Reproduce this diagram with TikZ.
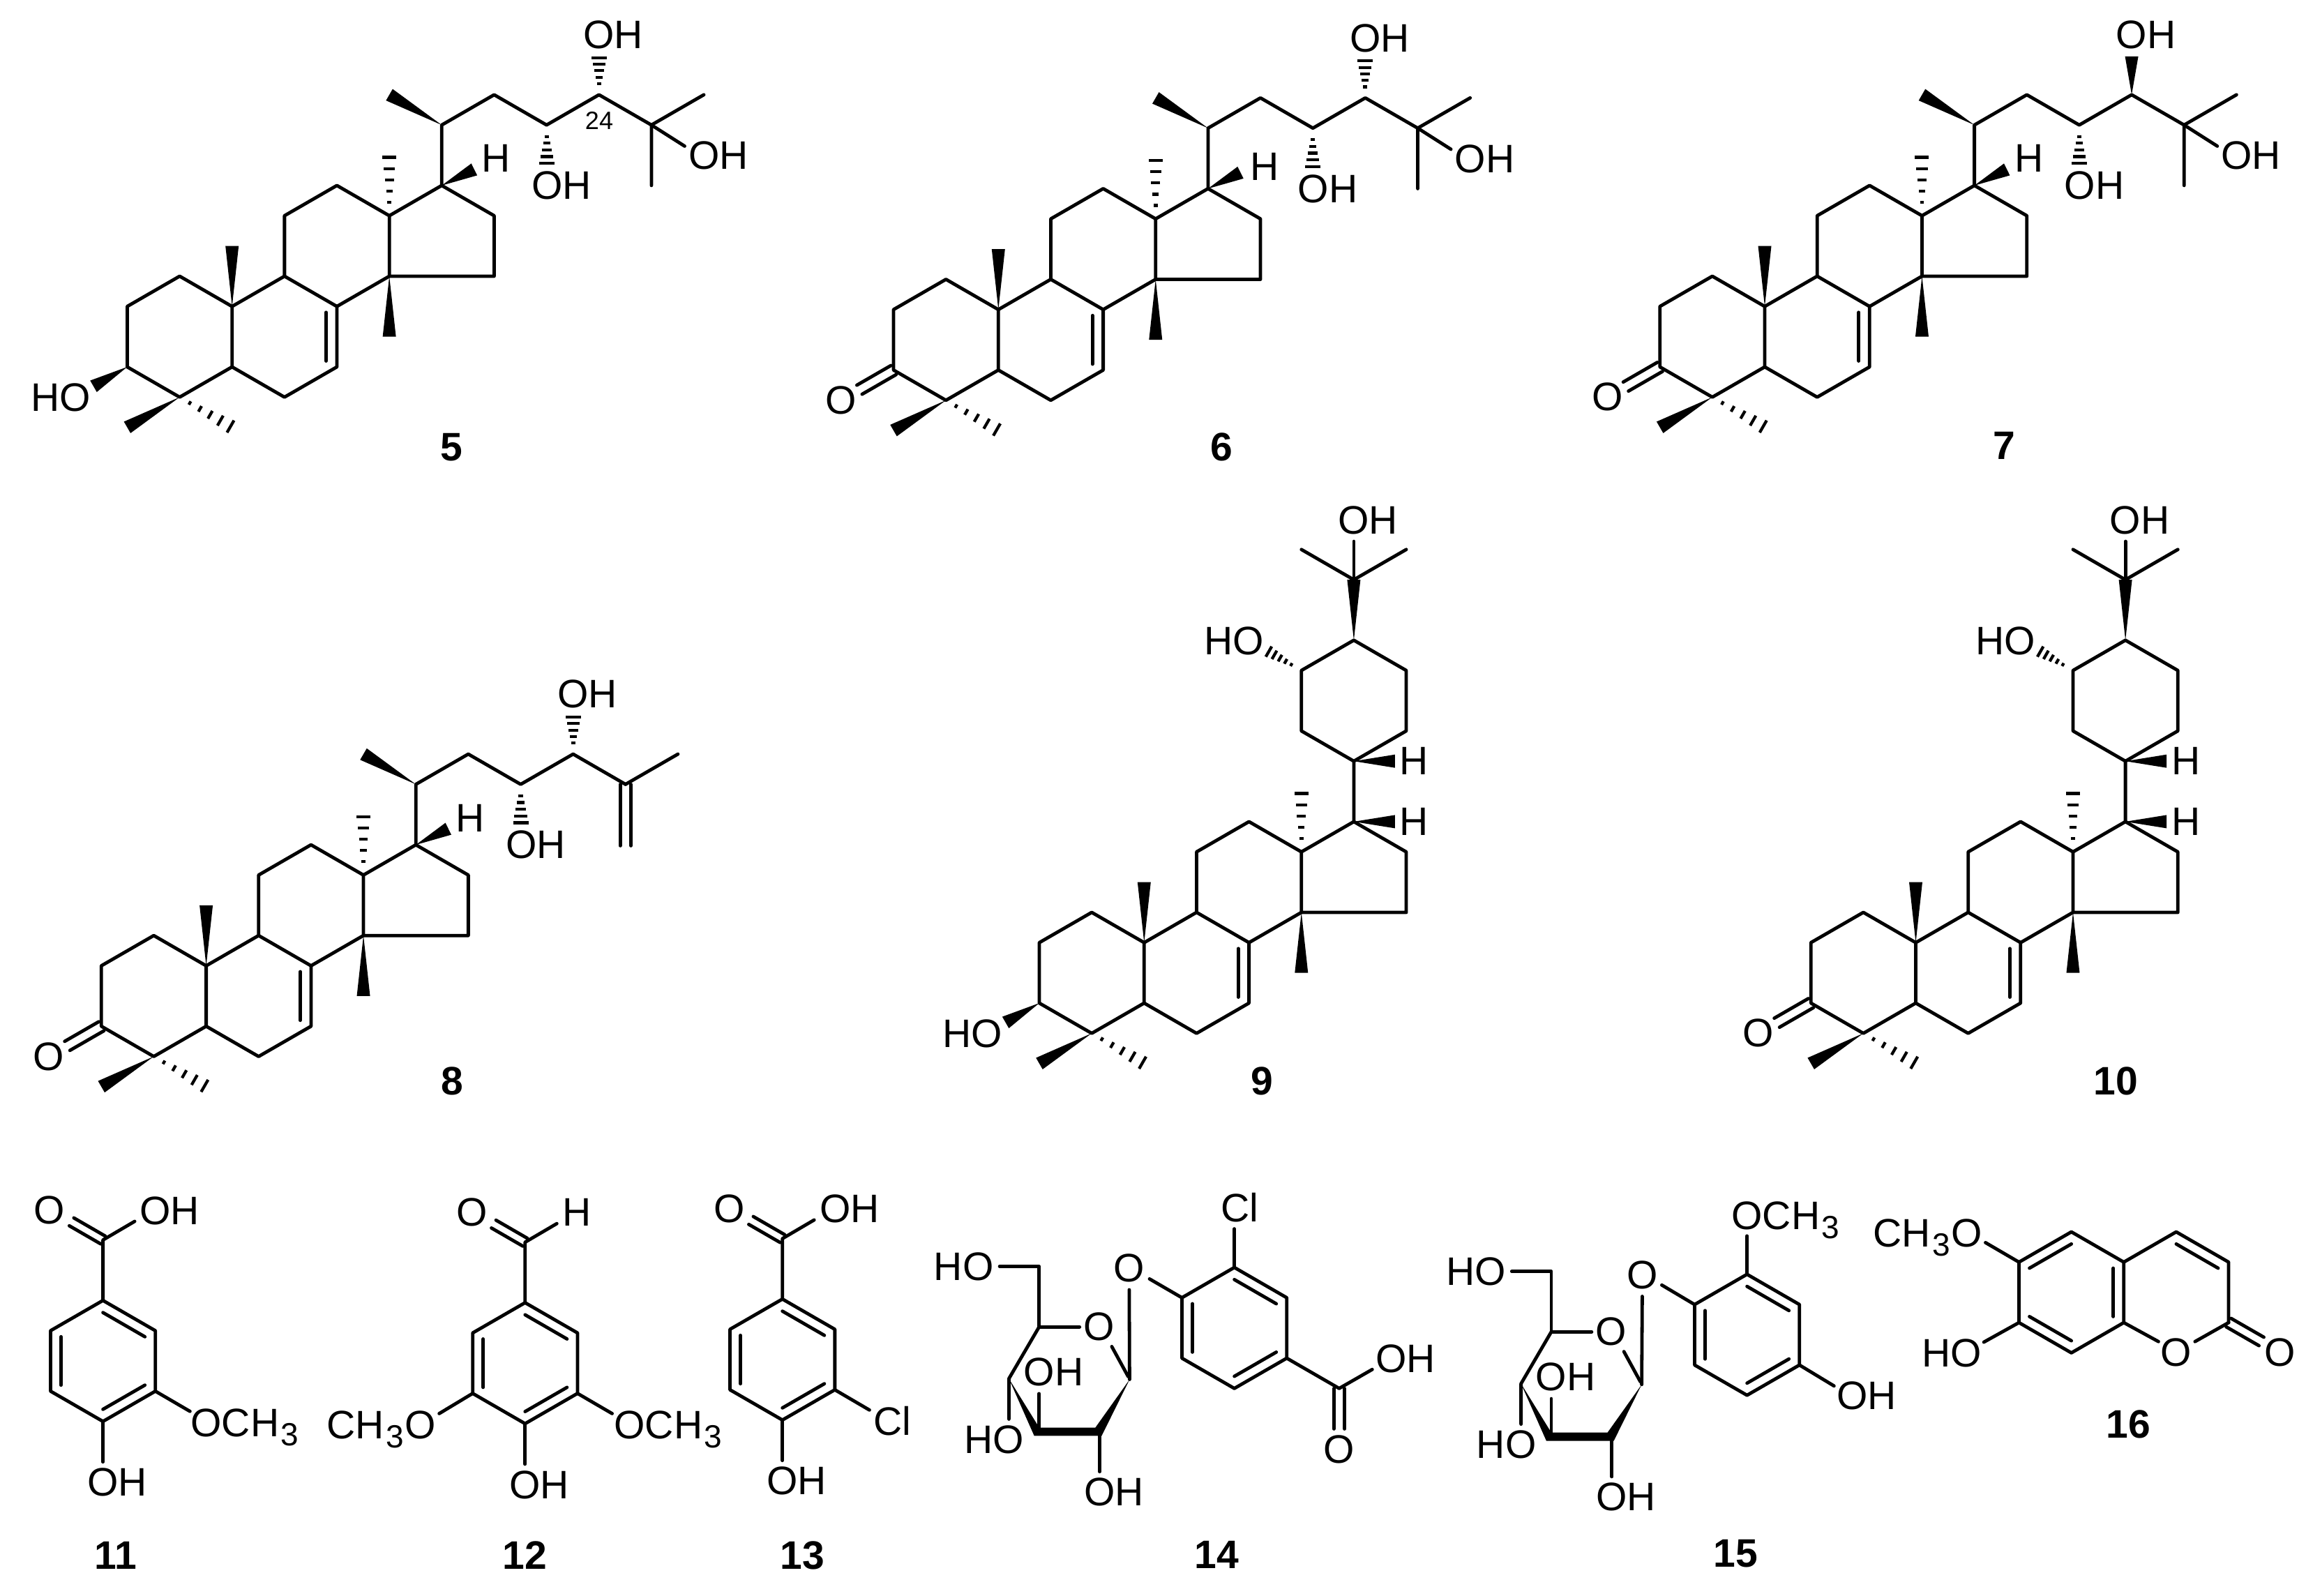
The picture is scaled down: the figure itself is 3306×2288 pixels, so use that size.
\documentclass[tikz,border=0pt]{standalone}
\usepackage{fontspec}
\setmainfont{Liberation Sans}
\usetikzlibrary{calc}
\newcommand\atomfont{\fontsize{57}{60}\selectfont}
\newcommand\subthree{\kern2.5pt\raisebox{-13pt}{\fontsize{46}{46}\selectfont 3}\kern1pt}
\tikzset{
  bond/.style={line width=4.8pt,line cap=round,line join=round},
  atom/.style={inner sep=0pt,font=\atomfont},
  cmpd/.style={inner sep=0pt,font=\atomfont\bfseries},
  small/.style={inner sep=0pt,font=\fontsize{36}{38}\selectfont}
}
% wedge: tip, wide end, half width
\newcommand\wedgeb[3]{\fill[line join=round] (#1) -- ($(#2)!#3pt!90:(#1)$) -- ($(#2)!#3pt!-90:(#1)$) -- cycle;}
% hash: from, to, first fraction, half width of last stripe
\newcommand\hashb[4]{\foreach \k in {0,...,4}{%
  \pgfmathsetmacro\ff{#3+\k*(1-#3)/4}%
  \pgfmathsetmacro\ww{#4*(0.28+\k*0.18)}%
  \draw[line width=4.2pt] ($(#1)!\ff!(#2)!\ww pt!90:(#1)$) -- ($(#1)!\ff!(#2)!\ww pt!-90:(#1)$);}}
% double bond with half gap
\newcommand\dblb[3]{\draw[bond] ($(#1)!#3pt!90:(#2)$) -- ($(#2)!#3pt!-90:(#1)$);
  \draw[bond] ($(#1)!#3pt!-90:(#2)$) -- ($(#2)!#3pt!90:(#1)$);}
\newcommand\innerb[3]{\draw[bond] ($(#1)!.8!(#2)$) -- ($(#1)!.8!(#3)$);}
% tetracyclic skeleton: prefix, x of C3, y of C3
\newcommand\steroid[3]{%
  \foreach \n/\i/\j in {c3/0/0,c2/0/-2,c1/1/-3,c10/2/-2,c5/2/0,c4/1/1,c6/3/1,c7/4/0,c8/4/-2,c9/3/-3,
    c11/3/-5,c12/4/-6,c13/5/-5,c14/5/-3,c15/7/-3,c16/7/-5,c17/6/-6,c20/6/-8,c22/7/-9,c23/8/-8,c24/9/-9,c25/10/-8,
    cmet/11/-9,cmeu/10/-6,me19/2/-4,me30/5/-1,me18/5/-6.93,me4a/0/2,me4b/1.97/1.97,me21/5/-9,oxo/-1/1}{%
    \coordinate (#1\n) at ({#2+(\i)*75.15},{#3+(\j)*43.35});}
  \draw[bond] (#1c3)--(#1c2)--(#1c1)--(#1c10)--(#1c5)--(#1c4)--cycle;
  \draw[bond] (#1c5)--(#1c6)--(#1c7)--(#1c8)--(#1c9)--(#1c10);
  \draw[bond] (#1c9)--(#1c11)--(#1c12)--(#1c13)--(#1c14)--(#1c8);
  \draw[bond] (#1c14)--(#1c15)--(#1c16)--(#1c17)--(#1c13);
  \draw[bond] ($(#1c8)+(-15.5,8.5)$) -- ($(#1c7)+(-15.5,-8.5)$);
  \wedgeb{#1c10}{#1me19}{9.5}
  \wedgeb{#1c14}{#1me30}{9.5}
  \wedgeb{#1c4}{#1me4a}{9.5}
  \hashb{#1c13}{#1me18}{.23}{10}
  \hashb{#1c4}{#1me4b}{.2}{10}
}
% beta OH at C3
\newcommand\hydroxyl[1]{%
  \coordinate (#1we) at ($(#1c3)+(-48.4,27.8)$);
  \wedgeb{#1c3}{#1we}{9.5}
  \node[atom] (#1ho3) at ($(#1c3)+(-95.5,44)$) {HO};}
% ketone at C3
\newcommand\ketone[1]{%
  \coordinate (#1kt) at ($(#1c3)!.65!(#1oxo)$);
  \dblb{#1c3}{#1kt}{7.5}
  \node[atom] (#1o3) at ($(#1oxo)+(0,0)$) {O};}
% open side chain
\newcommand\chain[1]{%
  \draw[bond] (#1c17)--(#1c20)--(#1c22)--(#1c23)--(#1c24)--(#1c25);
  \wedgeb{#1c20}{#1me21}{9.5}
  \coordinate (#1hw) at ($(#1c17)+(46.6,-23)$);
  \wedgeb{#1c17}{#1hw}{9.5}
  \coordinate (#1h23) at ($(#1c23)+(0,55)$);
  \hashb{#1c23}{#1h23}{.3}{11}
  \node[atom] (#1oh23) at ($(#1c3)+(622.7,-260)$) {OH};
  \node[atom] (#1oh24) at ($(#1c3)+(696.8,-476)$) {OH};}
\newcommand\triol[1]{%
  \draw[bond] (#1cmet)--(#1c25)--(#1cmeu);
  \coordinate (#1oe) at ($(#1c25)+(47.6,30.3)$);
  \draw[bond] (#1c25)--(#1oe);
  \node[atom] (#1oh25) at ($(#1c3)+(847.5,-303)$) {OH};}
\newcommand\hashtwentyfour[1]{%
  \coordinate (#1h24) at ($(#1c24)+(0,-53)$);
  \hashb{#1c24}{#1h24}{.3}{11}}
% cyclohexyl side chain of 9, 10
\newcommand\cyclochain[1]{%
  \foreach \n/\i/\j in {d1/7/-9,d2/7/-11,d3/6/-12,d4/5/-11,d5/5/-9,d6/6/-14,d7/5/-15,d8/7/-15}{%
    \coordinate (#1\n) at ($(#1c3)+({(\i)*75.15},{(\j)*43.35})$);}
  \draw[bond] (#1c17)--(#1c20)--(#1d1)--(#1d2)--(#1d3)--(#1d4)--(#1d5)--(#1c20);
  \draw[bond] (#1d7)--(#1d6)--(#1d8);
  \coordinate (#1de) at ($(#1d6)+(0,-55)$);
  \draw[bond] (#1d6)--(#1de);
  \wedgeb{#1d3}{#1d6}{9.5}
  \coordinate (#1ha) at ($(#1c20)+(59,0)$);
  \coordinate (#1hb) at ($(#1c17)+(59,0)$);
  \wedgeb{#1c20}{#1ha}{9.5}
  \wedgeb{#1c17}{#1hb}{9.5}
  \node[atom] (#1hta) at ($(#1c20)+(86.6,0)$) {H};
  \node[atom] (#1htb) at ($(#1c17)+(86.6,0)$) {H};
  \node[atom] (#1oht) at ($(#1c3)+(471.3,-692.5)$) {OH};
  \node[atom] (#1hoa) at ($(#1c3)+(279.3,-519.4)$) {HO};
  \coordinate (#1hh) at ($(#1d4)+(-46.8,-27)$);
  \hashb{#1d4}{#1hh}{.31}{8.5}}
% benzene ring outline: prefix, centre x, centre y
\newcommand\benzring[3]{%
  \coordinate (#1c) at (#2,#3);
  \foreach \n/\i/\j in {1/0/-2,2/1/-1,3/1/1,4/0/2,5/-1/1,6/-1/-1}{%
    \coordinate (#1\n) at ({#2+(\i)*75.15},{#3+(\j)*43.35});}
  \draw[bond] (#11)--(#12)--(#13)--(#14)--(#15)--(#16)--cycle;}
\newcommand\benzdbl[1]{\innerb{#1c}{#11}{#12}\innerb{#1c}{#13}{#14}\innerb{#1c}{#15}{#16}}
% carbonyl on top of a ring
\newcommand\carbonyl[1]{%
  \coordinate (#1co) at ($(#11)+(0,-86.7)$);
  \coordinate (#1ct) at ($(#1co)+(-45,-26)$);
  \coordinate (#1cr) at ($(#1co)+(45.5,-26.7)$);
  \draw[bond] (#11)--(#1co)--(#1cr);
  \dblb{#1co}{#1ct}{6.5}
  \node[atom] (#1oo) at ($(#1co)+(-76.5,-43)$) {O};}
\newcommand\phenol[1]{%
  \coordinate (#1be) at ($(#14)+(0,58)$);
  \draw[bond] (#14)--(#1be);
  \node[atom] (#1ob) at ($(#14)+(20.5,87.5)$) {OH};}
% sugar: prefix, x of C4, y of C4
\newcommand\sugar[3]{%
  \coordinate (#1a) at (#2,#3);
  \coordinate (#1b) at ($(#1a)+(43.4,-74.3)$);
  \coordinate (#1m) at ($(#1a)+(43.4,-161)$);
  \coordinate (#1n) at ($(#1a)+(-13.3,-161)$);
  \coordinate (#1p) at ($(#1a)+(101.3,-74.3)$);
  \coordinate (#1q) at ($(#1a)+(173,1.2)$);
  \coordinate (#1r) at ($(#1a)+(147.5,-46)$);
  \coordinate (#1s) at ($(#1a)+(171,-3)$);
  \draw[bond] (#1n)--(#1m)--(#1b)--(#1p);
  \draw[bond] (#1b)--(#1a)--($(#1a)+(0,58)$);
  \draw[bond] (#1r)--(#1s);
  \draw[bond] ($(#1a)+(43.4,70.1)$)--($(#1a)+(43.4,21.5)$);
  \draw[bond] ($(#1a)+(130.2,82)$)--($(#1a)+(130.2,133.3)$);
  \fill (#1a) -- ++(43.4,70.1) -- ++(80.6,0) -- (#1q) -- ($(#1a)+(133,82)$) -- ($(#1a)+(36.3,82)$) -- cycle;
  \node[atom] (#1t1) at ($(#1a)+(-64.7,-160.4)$) {HO};
  \node[atom] (#1t2) at ($(#1a)+(129.3,-74.6)$) {O};
  \node[atom] (#1t3) at ($(#1a)+(64,-10)$) {OH};
  \node[atom] (#1t4) at ($(#1a)+(-21,87.7)$) {HO};
  \node[atom] (#1t5) at ($(#1a)+(150.6,162.5)$) {OH};}
\begin{document}
\begin{tikzpicture}[x=1pt,y=-1pt]
\useasboundingbox (0,0) rectangle (3306,2288);

% ---- 5
\steroid{a}{182.4}{526}
\hydroxyl{a}
\chain{a}\triol{a}\hashtwentyfour{a}
\node[atom] (ahh) at ($(ac3)+(528.6,-299.4)$) {H};
\node[small] (an24) at (859,173) {24};
\node[cmpd] (al) at (647,641) {5};

% ---- 6
\steroid{b}{1281}{530.5}
\ketone{b}
\chain{b}\triol{b}\hashtwentyfour{b}
\node[atom] (bhh) at ($(bc3)+(531.7,-292)$) {H};
\node[cmpd] (bl) at (1751,641) {6};

% ---- 7
\steroid{c}{2379.7}{526}
\ketone{c}
\chain{c}\triol{c}
\coordinate (cw24) at ($(cc24)+(0,-55)$);
\wedgeb{cc24}{cw24}{9.5}
\node[atom] (chh) at ($(cc3)+(529,-299)$) {H};
\node[cmpd] (cl) at (2873,639) {7};

% ---- 8
\steroid{d}{145.3}{1471.2}
\ketone{d}
\chain{d}
\hashtwentyfour{d}
\draw[bond] (dcmet)--(dc25);
\coordinate (dch) at ($(dc25)+(0,88)$);
\dblb{dc25}{dch}{7.7}
\node[atom] (dhh) at ($(dc3)+(529,-298)$) {H};
\node[cmpd] (dl) at (648,1549.5) {8};

% ---- 9
\steroid{e}{1490}{1438}
\hydroxyl{e}
\cyclochain{e}
\node[cmpd] (el) at (1809,1550) {9};

% ---- 10
\steroid{f}{2596.2}{1438}
\ketone{f}
\cyclochain{f}
\node[cmpd] (fl) at (3033,1550) {10};

% ---- 11
\benzring{k}{147.6}{1951}\benzdbl{k}
\carbonyl{k}\phenol{k}
\node[atom] (koh) at (243,1735.6) {OH};
\coordinate (kme) at ($(k3)+(49.6,28.9)$);
\draw[bond] (k3)--(kme);
\node[atom,anchor=base west] (kom) at (273.3,2059.3) {OCH\subthree};
\node[cmpd] (kl) at (166,2230) {11};

% ---- 12
\benzring{l}{752.8}{1954.2}\benzdbl{l}
\carbonyl{l}\phenol{l}
\node[atom] (lh) at (827,1738) {H};
\coordinate (lme) at ($(l3)+(49.6,28.9)$);
\coordinate (lmf) at ($(l5)+(-48,28.9)$);
\draw[bond] (l3)--(lme);
\draw[bond] (l5)--(lmf);
\node[atom,anchor=base west] (lom) at (880.3,2062.5) {OCH\subthree};
\node[atom,anchor=base east] (lon) at (624.7,2062.5) {CH\subthree O};
\node[cmpd] (ll) at (752.5,2230) {12};

% ---- 13
\benzring{m}{1121.7}{1949}\benzdbl{m}
\carbonyl{m}\phenol{m}
\node[atom] (moh) at (1218,1732.5) {OH};
\coordinate (mcl) at ($(m3)+(49.6,29)$);
\draw[bond] (m3)--(mcl);
\node[atom] (mct) at (1279,2037) {Cl};
\node[cmpd] (ml) at (1150,2230) {13};

% ---- 14
\benzring{n}{1769.6}{1903.7}\benzdbl{n}
\sugar{s}{1446.4}{1976.4}
\node[atom] (ngo) at (1618.9,1817.4) {O};
\coordinate (ngl) at ($(ngo)+(29.1,16)$);
\coordinate (ngv) at ($(ngo)+(0,31.6)$);
\draw[bond] (n6)--(ngl);
\draw[bond] (ngv)--(sq);
\coordinate (ncl) at ($(n1)+(0,-55.4)$);
\draw[bond] (n1)--(ncl);
\node[atom] (nct) at (1777,1731.5) {Cl};
\coordinate (nco) at ($(n3)+(75.15,43.35)$);
\coordinate (nco2) at ($(nco)+(47.4,-27.2)$);
\coordinate (nco3) at ($(nco)+(0,58)$);
\draw[bond] (n3)--(nco)--(nco2);
\dblb{nco}{nco3}{7.7}
\node[atom] (noh) at (2015,1947.7) {OH};
\node[atom] (noo) at (1919.5,2077.7) {O};
\node[cmpd] (nl) at (1744,2229) {14};

% ---- 15
\benzring{o}{2504.6}{1913.5}\benzdbl{o}
\sugar{t}{2180.6}{1983.6}
\node[atom] (ogo) at (2354.4,1827.4) {O};
\coordinate (ogl) at ($(ogo)+(28,14.8)$);
\coordinate (ogv) at ($(ogo)+(0,31)$);
\draw[bond] (o6)--(ogl);
\draw[bond] (ogv)--(tq);
\coordinate (ome) at ($(o1)+(0,-55)$);
\draw[bond] (o1)--(ome);
\node[atom,anchor=base west] (oom) at (2482.3,1762) {OCH\subthree};
\coordinate (ooh) at ($(o3)+(49.6,30)$);
\draw[bond] (o3)--(ooh);
\node[atom] (oht) at (2676,2001) {OH};
\node[cmpd] (ol) at (2488.5,2227) {15};

% ---- 16
\benzring{p}{2969.6}{1852.7}
\innerb{pc}{p6}{p1}\innerb{pc}{p2}{p3}\innerb{pc}{p4}{p5}
\coordinate (qc) at ($(pc)+(150.3,0)$);
\coordinate (q1) at ($(qc)+(0,-86.7)$);
\coordinate (q2) at ($(qc)+(75.15,-43.35)$);
\coordinate (q3) at ($(qc)+(75.15,43.35)$);
\draw[bond] (p2)--(q1)--(q2)--(q3);
\innerb{qc}{q1}{q2}
\node[atom] (qo) at (3120,1938.4) {O};
\node[atom] (qoo) at (3269,1938.4) {O};
\coordinate (qa) at ($(p3)+(49.7,27.2)$);
\coordinate (qb) at ($(q3)+(-48.2,27.2)$);
\draw[bond] (p3)--(qa);
\draw[bond] (q3)--(qb);
\coordinate (qd) at ($(q3)+(47,27)$);
\dblb{q3}{qd}{7}
\coordinate (qm) at ($(p6)+(-48,-28)$);
\coordinate (qh) at ($(p5)+(-50.4,28)$);
\draw[bond] (p6)--(qm);
\draw[bond] (p5)--(qh);
\node[atom,anchor=base east] (qmt) at (2841.7,1787.4) {CH\subthree O};
\node[atom] (qht) at (2798,1939.7) {HO};
\node[cmpd] (ql) at (3051,2042) {16};
\end{tikzpicture}
\end{document}
